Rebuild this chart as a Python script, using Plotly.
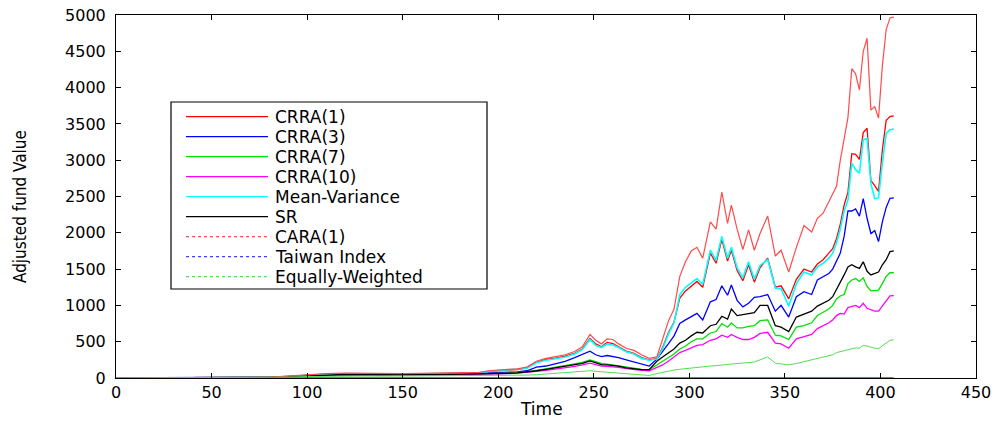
import plotly.graph_objects as go

# ---------------- data ----------------
time = [
    0, 20, 40, 60, 80, 90, 100, 110, 120, 130,
    140, 150, 160, 170, 180, 190, 195, 200, 205, 210,
    215, 220, 225, 230, 235, 240, 244, 248, 251, 254,
    257, 260, 263, 267, 271, 275, 279, 283, 286, 289,
    292, 295, 298, 301, 304, 307, 311, 314, 317, 320,
    322, 325, 328, 331, 334, 337, 341, 345, 348, 352,
    356, 360, 364, 367, 370, 373, 375, 377, 379, 381,
    383, 385, 387, 389, 391, 393, 395, 397, 399, 401,
    403, 405, 407,
]

crra1 = [
    1, 2, 3, 5, 9, 22, 40, 52, 60, 56,
    52, 55, 58, 61, 64, 70, 92, 104, 110, 116,
    138, 215, 255, 275, 300, 340, 400, 545, 470, 430,
    490, 475, 430, 370, 340, 280, 250, 265, 420, 620,
    770, 1100, 1200, 1270, 1330, 1250, 1720, 1580, 1910, 1610,
    1760, 1480, 1340, 1560, 1320, 1520, 1650, 1250, 1270, 1090,
    1360, 1500, 1460, 1570, 1630, 1720, 1780, 1920, 2120, 2380,
    2560, 3090, 3080, 3010, 3380, 3440, 2720, 2650, 2570, 3140,
    3550, 3600, 3610,
]

crra3 = [
    1, 2, 3, 5, 8, 20, 35, 45, 52, 48,
    45, 48, 50, 52, 55, 58, 70, 72, 76, 85,
    100, 150, 165, 200, 230, 280, 320, 370, 320, 295,
    310, 300, 280, 250, 220, 200, 165, 260, 360, 470,
    580, 750, 800, 850, 890, 800, 1050, 1080, 1270, 1140,
    1280, 1070, 980, 1030, 1110, 1120, 1150, 920, 1000, 840,
    1120, 1190, 1150, 1350, 1400, 1440, 1500, 1600, 1720, 1950,
    2300, 2300, 2330, 2230, 2470, 2200, 1990, 2030, 1880, 2150,
    2350, 2475, 2480,
]

crra7 = [
    1, 2, 3, 5, 8, 18, 30, 40, 48, 45,
    42, 45, 46, 48, 50, 52, 62, 64, 67, 72,
    85, 105, 125, 145, 170, 195, 215, 250, 225, 200,
    190, 180, 170, 150, 135, 120, 115, 180, 230, 280,
    330, 400, 440, 500, 540, 540, 620, 640, 750, 700,
    760, 690, 690, 710, 720, 790, 800, 590, 580, 530,
    700, 720, 760, 860, 900, 950, 1000, 1090, 1130, 1150,
    1300, 1350, 1370, 1330, 1380, 1260, 1200, 1210, 1210, 1300,
    1400, 1450, 1450,
]

crra10 = [
    1, 2, 3, 5, 7, 16, 28, 38, 45, 42,
    40, 42, 43, 45, 47, 50, 58, 60, 62, 66,
    75, 90, 105, 120, 140, 160, 180, 205, 185, 165,
    160, 155, 145, 130, 115, 105, 100, 140, 180, 230,
    290, 350, 380, 420, 450, 460, 520, 540, 590, 560,
    600, 560, 530, 530, 560, 615, 630, 480, 470, 410,
    540, 570, 600, 680, 720, 760, 800, 860, 890, 880,
    970, 990, 1000, 970, 1030, 960, 940, 920, 920, 990,
    1070, 1130, 1135,
]

mean_variance = [
    1, 2, 3, 5, 9, 22, 40, 52, 60, 56,
    52, 55, 58, 61, 64, 70, 92, 102, 108, 114,
    134, 210, 245, 265, 290, 330, 390, 530, 450, 420,
    470, 455, 420, 360, 330, 270, 245, 260, 400, 600,
    760, 1150, 1250, 1310, 1370, 1290, 1760, 1620, 1950, 1650,
    1800, 1520, 1380, 1600, 1360, 1550, 1630, 1240, 1230, 990,
    1300, 1460, 1420, 1530, 1580, 1650, 1720, 1860, 2050, 2300,
    2450, 2960, 2870, 2820, 3280, 3300, 2680, 2470, 2480, 2960,
    3370, 3420, 3430,
]

sr = [
    1, 2, 3, 5, 8, 18, 30, 40, 48, 45,
    42, 45, 46, 48, 50, 52, 60, 62, 65, 70,
    80, 100, 120, 140, 160, 180, 200, 235, 210, 185,
    180, 170, 165, 140, 125, 115, 115, 230, 290, 350,
    400, 480, 520, 580, 630, 620, 720, 740, 850, 810,
    950, 860, 870, 890, 900, 1000, 1000, 720, 700, 640,
    840, 880, 920, 990, 1030, 1070, 1120, 1220, 1300, 1420,
    1530, 1560, 1530, 1510, 1600, 1470, 1420, 1440, 1460, 1560,
    1630, 1740, 1750,
]

cara1 = [
    1, 2, 3, 5, 10, 25, 45, 60, 68, 62,
    58, 60, 63, 66, 70, 78, 100, 112, 118, 125,
    150, 230, 270, 295, 320, 365, 430, 600, 520, 470,
    540, 530, 470, 410, 380, 320, 270, 290, 520, 780,
    950, 1400, 1600, 1750, 1800, 1650, 2150, 2050, 2560, 2130,
    2380, 2050, 1770, 2040, 1760, 1990, 2230, 1680, 1760, 1460,
    1800, 2100, 2010, 2200, 2270, 2420, 2520, 2640, 3000, 3300,
    3590, 4260, 4190, 3970, 4500, 4680, 3690, 3740, 3580, 4300,
    4800, 4960, 4970,
]

taiwan_index = [
    1.0, 1.0, 1.0, 1.1, 1.1, 1.1, 1.2, 1.2, 1.2, 1.1,
    1.1, 1.1, 1.1, 1.2, 1.2, 1.2, 1.2, 1.2, 1.2, 1.2,
    1.2, 1.3, 1.3, 1.3, 1.3, 1.3, 1.3, 1.4, 1.3, 1.3,
    1.3, 1.3, 1.3, 1.2, 1.2, 1.2, 1.1, 1.1, 1.2, 1.2,
    1.2, 1.3, 1.3, 1.3, 1.3, 1.3, 1.3, 1.3, 1.4, 1.3,
    1.3, 1.3, 1.3, 1.3, 1.3, 1.3, 1.3, 1.2, 1.2, 1.2,
    1.2, 1.2, 1.3, 1.3, 1.3, 1.3, 1.3, 1.4, 1.4, 1.4,
    1.4, 1.4, 1.4, 1.4, 1.4, 1.4, 1.3, 1.3, 1.3, 1.4,
    1.4, 1.4, 1.4,
]

equally_weighted = [
    1, 2, 3, 4, 6, 12, 20, 25, 28, 27,
    26, 27, 28, 29, 30, 31, 35, 36, 37, 38,
    40, 45, 55, 65, 75, 85, 90, 100, 92, 85,
    80, 75, 70, 55, 45, 40, 35, 60, 80, 100,
    110, 120, 130, 140, 150, 155, 165, 170, 180, 185,
    195, 200, 205, 210, 220, 250, 290, 205, 195, 180,
    200, 225, 250, 270, 285, 300, 320, 350, 365, 375,
    390, 400, 415, 410, 450, 440, 420, 410, 405, 440,
    480, 520, 525,
]

series_names = ["CRRA(1)", "CRRA(3)", "CRRA(7)", "CRRA(10)", "Mean-Variance",
                "SR", "CARA(1)", "Taiwan Index", "Equally-Weighted"]
series_values = [crra1, crra3, crra7, crra10, mean_variance,
                 sr, cara1, taiwan_index, equally_weighted]

x_ticks = [0, 50, 100, 150, 200, 250, 300, 350, 400, 450]
y_ticks = [0, 500, 1000, 1500, 2000, 2500, 3000, 3500, 4000, 4500, 5000]

# ---------------- styles ----------------
line_colors = ["#ff0000", "#0000ff", "#00e000", "#ff00ff", "#00ffff",
               "#000000", "#ff4a4a", "#4040ff", "#55dd55"]
line_widths = [1.3, 1.3, 1.3, 1.3, 1.6, 1.3, 1.2, 1.2, 1.0]
legend_dash = ["solid", "solid", "solid", "solid", "solid",
               "solid", "dot", "dot", "dot"]

FONT = "DejaVu Sans, Liberation Sans, Arial, sans-serif"

fig = go.Figure()
for name, vals, col, w in zip(series_names, series_values, line_colors, line_widths):
    fig.add_trace(go.Scatter(x=time, y=vals, mode="lines", name=name,
                             line=dict(color=col, width=w), showlegend=False,
                             hoverinfo="skip"))

# Figure fills the 999x423 window (page body margin is removed below).
W, H = 999, 423
L, R, T, B = 116, 23, 15, 45
pw, ph = W - L - R, H - T - B


def px(xw):  # window pixel x -> paper fraction
    return (xw - L) / pw


def py(yw):  # window pixel y -> paper fraction
    return (H - B - yw) / ph


shapes = [dict(type="rect", xref="paper", yref="paper",
               x0=px(171), x1=px(487), y0=py(289), y1=py(102),
               line=dict(color="black", width=1.2), fillcolor="white", layer="above")]
annotations = []
for i, name in enumerate(series_names):
    yrow = 116.7 + 20 * i
    shapes.append(dict(type="line", xref="paper", yref="paper",
                       x0=px(186), x1=px(268), y0=py(yrow), y1=py(yrow),
                       line=dict(color=line_colors[i], width=1.2, dash=legend_dash[i]),
                       layer="above"))
    annotations.append(dict(text=name, xref="paper", yref="paper",
                            x=px(273), y=py(yrow), xanchor="left", yanchor="middle",
                            showarrow=False, font=dict(family=FONT, size=17, color="black")))

annotations.append(dict(text="Time", xref="paper", yref="paper", x=px(541), y=py(409),
                        xanchor="center", yanchor="middle", showarrow=False,
                        font=dict(family=FONT, size=17, color="black")))
annotations.append(dict(text="Adjusted fund Value", xref="paper", yref="paper",
                        x=px(20), y=py(207), xanchor="center", yanchor="middle",
                        textangle=-90, showarrow=False,
                        font=dict(family="Liberation Sans Narrow, DejaVu Sans Condensed, Liberation Sans, sans-serif",
                                  size=17, color="black")))

fig.update_layout(
    width=W, height=H,
    margin=dict(l=L, r=R, t=T, b=B, autoexpand=False),
    paper_bgcolor="white", plot_bgcolor="white",
    shapes=shapes, annotations=annotations,
    showlegend=False, hovermode=False,
    font=dict(family=FONT, size=16, color="black"),
)
fig.update_xaxes(range=[0, 450], tickvals=x_ticks, ticktext=[str(v) for v in x_ticks],
                 showgrid=False, zeroline=False, showline=True, linecolor="black",
                 linewidth=1, mirror="ticks", ticks="inside", ticklen=5,
                 tickcolor="black", tickfont=dict(family=FONT, size=16),
                 ticklabeloverflow="allow", automargin=False)
fig.update_yaxes(range=[0, 5000], tickvals=y_ticks, ticktext=[str(v) for v in y_ticks],
                 showgrid=False, zeroline=False, showline=True, linecolor="black",
                 linewidth=1, mirror="ticks", ticks="inside", ticklen=5,
                 tickcolor="black", tickfont=dict(family=FONT, size=16),
                 ticklabelstandoff=6, ticklabeloverflow="allow", automargin=False)

fig.write_html("out.html", config={"displayModeBar": False, "staticPlot": True},
               post_script="document.body.style.margin='0';document.body.style.overflow='hidden';")
